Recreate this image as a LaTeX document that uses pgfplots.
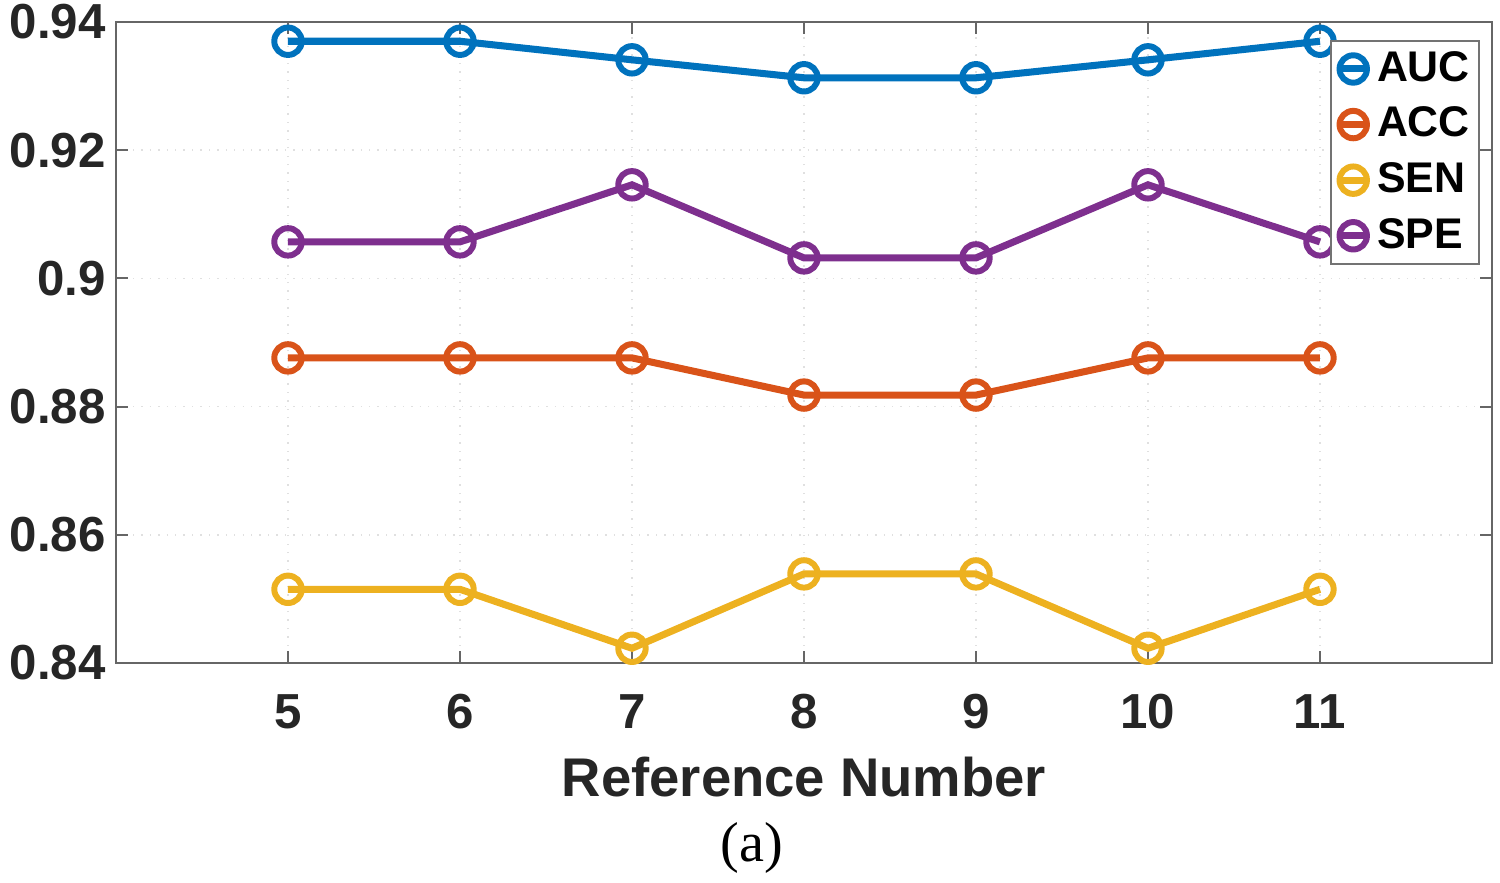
\documentclass[border=0pt]{standalone}
\usepackage{pgfplots}
\pgfplotsset{compat=1.18}
\usepackage{fontspec}
\setmainfont{Liberation Sans}
\newfontfamily\timesfont{Liberation Serif}
\definecolor{mblue}{rgb}{0,0.447,0.741}
\definecolor{morange}{rgb}{0.85,0.325,0.098}
\definecolor{myellow}{rgb}{0.929,0.694,0.125}
\definecolor{mpurple}{rgb}{0.494,0.184,0.556}
\begin{document}
\begin{tikzpicture}
\useasboundingbox (-1.16cm,-2.19cm) rectangle (13.84cm,6.63cm);
\begin{axis}[
    scale only axis,
    width=13.76cm, height=6.41cm,
    xmin=4, xmax=12,
    ymin=0.84, ymax=0.94,
    xtick={5,6,7,8,9,10,11},
    ytick={0.84,0.86,0.88,0.9,0.92,0.94},
    yticklabels={0.84,0.86,0.88,0.9,0.92,0.94},
    tick label style={font=\fontsize{14}{14}\selectfont\bfseries, text=black!85},
    /pgf/number format/assume math mode=true,
    xticklabel style={yshift=-0.19cm},
    yticklabel style={xshift=0.02cm},
    tick align=inside,
    major tick length=0.12cm,
    tick style={black!60, line width=0.6pt},
    axis line style={black!60, line width=0.6pt},
    xmajorgrids, ymajorgrids,
    grid style={black!12, dotted, line width=0.5pt},
    xlabel={Reference Number},
    xlabel style={font=\fontsize{15.5}{15.5}\selectfont\bfseries, text=black!85, yshift=-0.04cm},
    legend style={
        at={(0.991,0.972)}, anchor=north east,
        draw=black!55, line width=0.5pt,
        font=\fontsize{12.2}{12.2}\selectfont\bfseries,
        inner sep=1pt, row sep=1.8pt,
        nodes={inner xsep=1.5pt},
        /tikz/every even column/.append style={column sep=0pt},
    },
    legend cell align=left,
    legend image code/.code={
        \draw[#1] (0cm,0cm) -- (0.3cm,0cm);
        \draw[#1, mark repeat=1] plot coordinates {(0.15cm,0cm)};
    },
    every axis plot/.append style={line width=2pt, mark=o,
        mark size=3.9pt, mark options={line width=1.7pt}},
]
\addplot[color=mblue] coordinates {
    (5,0.9370) (6,0.9370) (7,0.9341) (8,0.9313) (9,0.9313) (10,0.9341) (11,0.9370)
};
\addlegendentry{AUC}
\addplot[color=morange] coordinates {
    (5,0.8876) (6,0.8876) (7,0.8876) (8,0.8818) (9,0.8818) (10,0.8876) (11,0.8876)
};
\addlegendentry{ACC}
\addplot[color=myellow] coordinates {
    (5,0.8515) (6,0.8515) (7,0.8423) (8,0.8539) (9,0.8539) (10,0.8423) (11,0.8515)
};
\addlegendentry{SEN}
\addplot[color=mpurple] coordinates {
    (5,0.9057) (6,0.9057) (7,0.9146) (8,0.9032) (9,0.9032) (10,0.9146) (11,0.9057)
};
\addlegendentry{SPE}
\end{axis}
\node[font=\timesfont\fontsize{16}{16}\selectfont] at (6.36cm,-1.85cm) {(a)};
\end{tikzpicture}
\end{document}
